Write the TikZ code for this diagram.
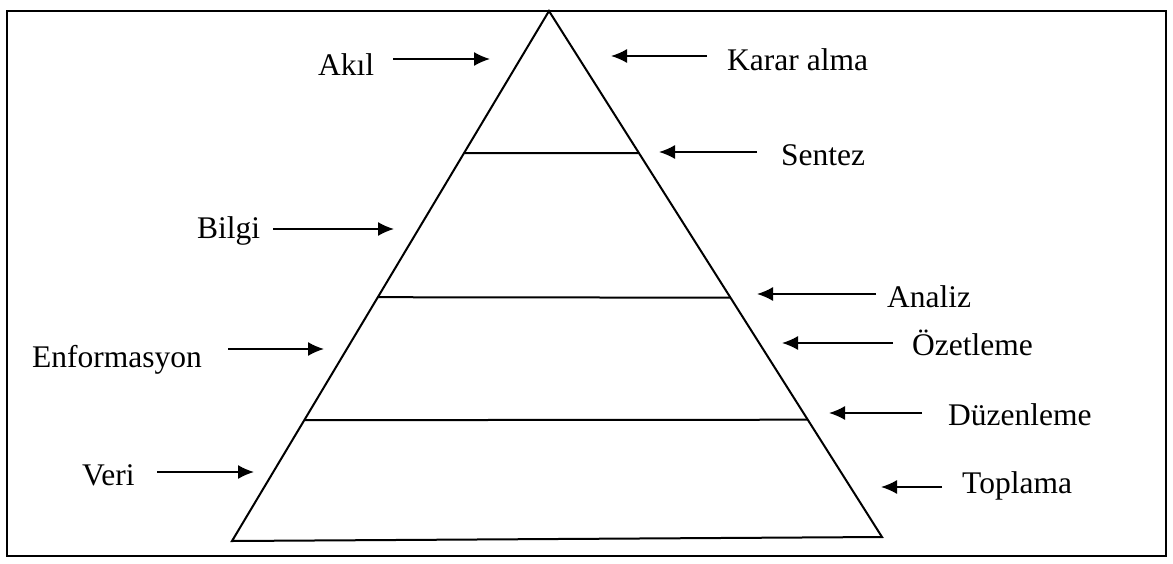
\documentclass[tikz,border=0pt]{standalone}
\usepackage{fontspec}
\setmainfont{Liberation Serif}
\usetikzlibrary{arrows.meta,calc}
\tikzset{
  lbl/.style={anchor=base west, inner sep=0pt, font=\fontsize{31.5}{36}\selectfont},
  edge/.style={line width=2pt, line join=miter},
  pointer/.style={line width=1.6pt, -{Latex[length=16pt,width=14pt]}},
}
\begin{document}
\begin{tikzpicture}[x=1pt,y=-1pt]
\useasboundingbox (0,0) rectangle (1173,563);
% outer frame
\draw[line width=2pt] (7,11) rectangle (1166,556);
% pyramid
\coordinate (apex) at (549,11);
\coordinate (bl) at (232,541);
\coordinate (br) at (882,537);
\draw[edge] (apex) -- (bl) -- (br) -- cycle;
% level separators
\draw[edge] ($(apex)!0.268!(bl)$) -- ($(apex)!0.270!(br)$);
\draw[edge] ($(apex)!0.540!(bl)$) -- ($(apex)!0.545!(br)$);
\draw[edge] ($(apex)!0.772!(bl)$) -- ($(apex)!0.777!(br)$);
% left labels
\node[lbl] (akil) at (318,75) {Akıl};
\node[lbl] (bilgi) at (197,238) {Bilgi};
\node[lbl] (enf) at (32,367) {Enformasyon};
\node[lbl] (veri) at (82,485) {Veri};
% right labels
\node[lbl] (karar) at (727,70) {Karar alma};
\node[lbl] (sentez) at (781,165) {Sentez};
\node[lbl] (analiz) at (887,307) {Analiz};
\node[lbl] (ozet) at (912,355) {Özetleme};
\node[lbl] (duzen) at (948,425) {Düzenleme};
\node[lbl] (topla) at (962,493) {Toplama};
% arrow ends
\coordinate (akilA) at (393,59);  \coordinate (akilB) at (490,59);
\coordinate (bilgiA) at (273,229); \coordinate (bilgiB) at (394,229);
\coordinate (enfA) at (228,349);  \coordinate (enfB) at (324,349);
\coordinate (veriA) at (157,472); \coordinate (veriB) at (254,472);
\coordinate (kararA) at (707,56); \coordinate (kararB) at (611,56);
\coordinate (sentezA) at (757,152); \coordinate (sentezB) at (659,152);
\coordinate (analizA) at (876,294); \coordinate (analizB) at (757,294);
\coordinate (ozetA) at (893,343); \coordinate (ozetB) at (782,343);
\coordinate (duzenA) at (922,413); \coordinate (duzenB) at (829,413);
\coordinate (toplaA) at (942,487); \coordinate (toplaB) at (881,487);
\foreach \n in {akil,bilgi,enf,veri,karar,sentez,analiz,ozet,duzen,topla}
  \draw[pointer] (\n A) -- (\n B);
\end{tikzpicture}
\end{document}
